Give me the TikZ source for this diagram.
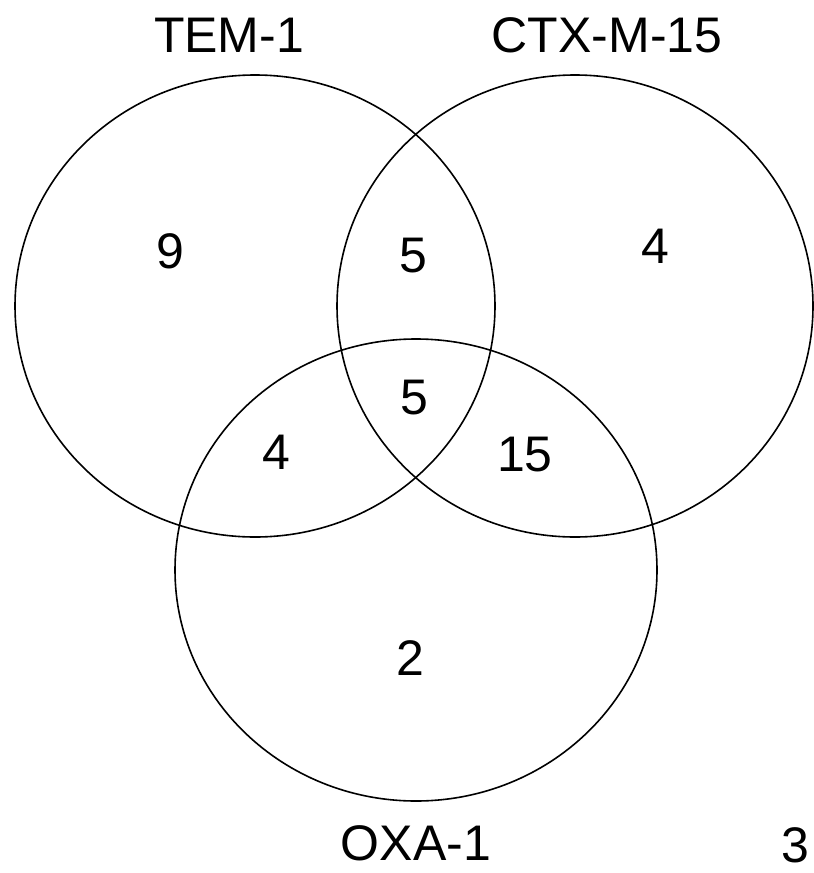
\documentclass[tikz,border=0pt]{standalone}
\usepackage{fontspec}
\setmainfont{Liberation Sans}
\begin{document}
\begin{tikzpicture}[x=1pt,y=-1pt,
  setring/.style={draw=black,line width=1.6pt},
  lbl/.style={font=\fontsize{50}{50}\selectfont,inner sep=0pt,anchor=center}]
\useasboundingbox (0,0) rectangle (814,873);
\draw[setring] (255,306) ellipse [x radius=240,y radius=231];
\draw[setring] (575,306) ellipse [x radius=238,y radius=231];
\draw[setring] (416,570) ellipse [x radius=241,y radius=231];
\node[lbl] (tem) at (229,35) {TEM-1};
\node[lbl] (ctx) at (607,35) {CTX-M-15};
\node[lbl] (oxa) at (416,843) {OXA-1};
\node[lbl] (out) at (795,845) {3};
\node[lbl] (a) at (170,251) {9};
\node[lbl] (ab) at (413,256) {5};
\node[lbl] (b) at (655,246) {4};
\node[lbl] (abc) at (414,398) {5};
\node[lbl] (ac) at (276,452) {4};
\node[lbl] (bc) at (525,455) {15};
\node[lbl] (c) at (410,658) {2};
\end{tikzpicture}
\end{document}
